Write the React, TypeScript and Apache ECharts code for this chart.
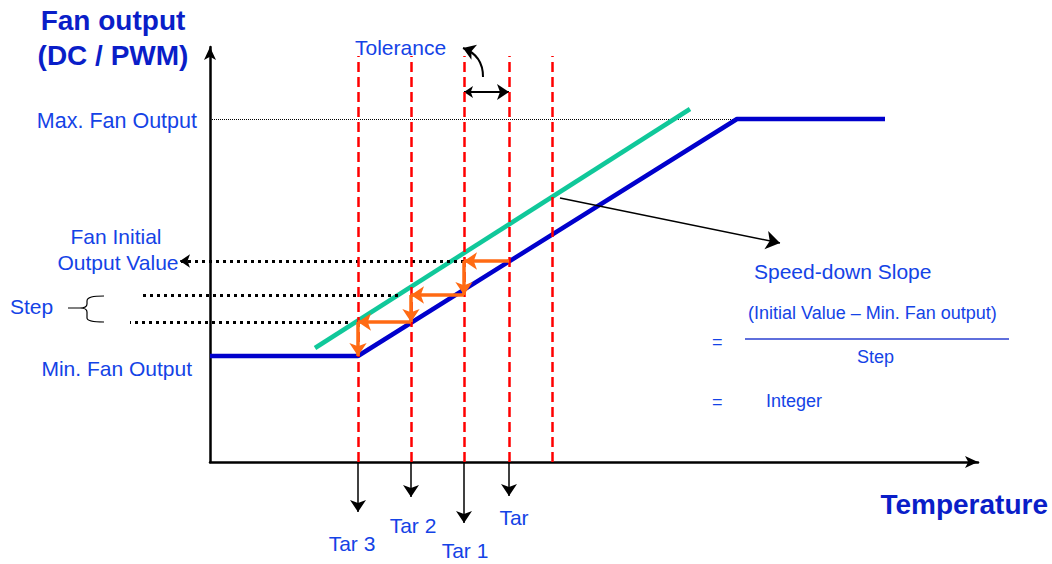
import React, { useEffect, useRef } from "react";
import * as echarts from "echarts";

// Data units: temperature (x) and fan output (y), both in arbitrary diagram units.
const minOutput = 106;
const maxOutput = 343;
const fanCurveTemps = [0, 148, 527, 675];
const fanCurveOutputs = [minOutput, minOutput, maxOutput, maxOutput];
const speedDownTemps = [105, 480];
const speedDownOutputs = [114, 353];
const thresholdTemps = [148, 201, 254, 299, 342]; // Tar 3, Tar 2, Tar 1, Tar, Tar + tolerance
const tarLabels = ["Tar 3", "Tar 2", "Tar 1", "Tar"];
const tarArrowEnds = [-50, -35, -61, -34];
const stepOutputs = [201, 167, 140]; // initial value, then step levels
const stepLineStarts = [-30, -68, -80];
const stepLineEnds = [254, 188, 138];
const dashTop = 406;
const toleranceLevel = 370;
const toleranceCurve = [[273, 385], [253, 414]];
const slopePointer = [[350, 264], [570, 219]];

const BLUE_TEXT = "#1443e6";
const TITLE_BLUE = "#0a1ec8";
const FONT = "'Liberation Sans', Arial, sans-serif";

const orangeSegments: number[][][] = [];
for (let i = 0; i < 3; i++) {
  const y0 = stepOutputs[i];
  const y1 = i < 2 ? stepOutputs[i + 1] : minOutput;
  orangeSegments.push([[thresholdTemps[3 - i], y0], [thresholdTemps[2 - i], y0]]);
  orangeSegments.push([[thresholdTemps[2 - i], y0], [thresholdTemps[2 - i], y1]]);
}

function txt(text: string, x: number, y: number, size: number, opts: any = {}) {
  return {
    type: "text",
    x,
    y,
    z: 100,
    style: {
      text,
      font: `${opts.bold ? "bold " : ""}${size}px ${FONT}`,
      fill: opts.color || BLUE_TEXT,
      align: opts.align || "left",
      verticalAlign: "middle",
      textAlign: opts.align || "left",
      textVerticalAlign: "middle",
    },
  };
}

export default function App() {
  const ref = useRef<HTMLDivElement>(null);
  useEffect(() => {
    if (!ref.current) return;
    echarts.graphic.registerShape(
      "brace",
      echarts.graphic.extendPath(
        "M104,296 C93,296 87,297 87,301 L87,304 C87,307 85,308 80,308 L68,308 M80,308 C85,308 87,309 87,312 L87,318 C87,321 93,322 104,322",
        {}
      )
    );
    const chart = echarts.init(ref.current, undefined, { renderer: "svg" });
    const arrowLines = (name: string, coords: number[][][], color: string, width: number, type: any, symbol: any, size: any, extra: any = {}) => ({
      type: "lines",
      name,
      coordinateSystem: "cartesian2d",
      clip: false,
      silent: true,
      symbol,
      symbolSize: size,
      lineStyle: { color, width, type, opacity: 1, ...(extra.lineStyle || {}) },
      data: coords.map((c) => ({ coords: c })),
      z: extra.z || 3,
    });

    const option: any = {
      animation: false,
      backgroundColor: "#ffffff",
      grid: { left: 210, right: 74, top: 47, bottom: 102, containLabel: false },
      xAxis: {
        type: "value",
        min: 0,
        max: 768,
        axisLine: { show: true, onZero: false, symbol: ["none", "arrow"], symbolSize: [9, 13], lineStyle: { color: "#000", width: 2.5 } },
        axisTick: { show: false },
        axisLabel: { show: false },
        splitLine: { show: false },
      },
      yAxis: {
        type: "value",
        min: 0,
        max: 415,
        axisLine: { show: true, onZero: false, symbol: ["none", "arrow"], symbolSize: [9, 13], lineStyle: { color: "#000", width: 2.5 } },
        axisTick: { show: false },
        axisLabel: { show: false },
        splitLine: { show: false },
      },
      series: [
        arrowLines("max", [[[0, maxOutput], [fanCurveTemps[2], maxOutput]]], "#000", 1, [1, 1], "none", 0, { z: 1 }),
        {
          type: "line",
          name: "fan",
          data: fanCurveTemps.map((t, i) => [t, fanCurveOutputs[i]]),
          symbol: "none",
          lineStyle: { color: "#0000cc", width: 4.5 },
          z: 2,
        },
        {
          type: "line",
          name: "speedDown",
          data: speedDownTemps.map((t, i) => [t, speedDownOutputs[i]]),
          symbol: "none",
          lineStyle: { color: "#10c89a", width: 4.5 },
          z: 2,
        },
        arrowLines(
          "stepLevels",
          stepOutputs.map((y, i) => [[stepLineEnds[i], y], [stepLineStarts[i], y]]),
          "#000",
          3,
          [3, 4],
          "none",
          0,
          { z: 3 }
        ),
        arrowLines("initialArrow", [[[stepLineStarts[0] + 10, stepOutputs[0]], [stepLineStarts[0], stepOutputs[0]]]], "#000", 1.5, "solid", ["none", "arrow"], [8, 10], { z: 3 }),
        arrowLines(
          "thresholds",
          thresholdTemps.map((t) => [[t, 0], [t, dashTop]]),
          "#ff0000",
          2.5,
          [10, 5],
          "none",
          0,
          { z: 4 }
        ),
        arrowLines("orange", orangeSegments, "#ff6a13", 3.5, "solid", ["none", "arrow"], [11, 13], { z: 5 }),
        arrowLines(
          "tarArrows",
          tarArrowEnds.map((y, i) => [[thresholdTemps[i], 0], [thresholdTemps[i], y]]),
          "#000",
          1.5,
          "solid",
          ["none", "arrow"],
          [9, 12],
          { z: 3 }
        ),
        arrowLines("tolerance", [[[thresholdTemps[2], toleranceLevel], [thresholdTemps[3], toleranceLevel]]], "#000", 2, "solid", ["arrow", "arrow"], [9, 12], { z: 3 }),
        arrowLines("toleranceCurve", [toleranceCurve], "#000", 2, "solid", ["none", "arrow"], [9, 12], { z: 3, lineStyle: { curveness: -0.35 } }),
        arrowLines("slopePointer", [slopePointer], "#000", 1.5, "solid", ["none", "arrow"], [9, 14], { z: 3 }),
      ],
      graphic: [
        txt("Fan output", 113, 20, 28, { bold: true, color: TITLE_BLUE, align: "center" }),
        txt("(DC / PWM)", 113, 55, 28, { bold: true, color: TITLE_BLUE, align: "center" }),
        txt("Max. Fan Output", 197, 121, 21.5, { align: "right" }),
        txt("Fan Initial", 116, 236, 21, { align: "center" }),
        txt("Output Value", 118, 262, 21, { align: "center" }),
        txt("Step", 10, 306, 21),
        txt("Min. Fan Output", 192, 368, 21, { align: "right" }),
        txt("Tolerance", 355, 47, 21),
        txt("Speed-down Slope", 754, 271, 21),
        txt("(Initial Value \u2013 Min. Fan output)", 748, 313, 18),
        txt("Step", 857, 357, 18),
        txt("=", 712, 342, 18),
        txt("=", 712, 402, 18),
        txt("Integer", 766, 401, 18),
        txt("Temperature", 1048, 504, 28, { bold: true, color: TITLE_BLUE, align: "right" }),
        ...tarLabels.map((label, i) =>
          txt(label, [352, 413, 465, 514][i], [543, 525, 550, 517][i], 21, { align: "center" })
        ),
        {
          type: "line",
          z: 100,
          shape: { x1: 745, y1: 339, x2: 1009, y2: 339 },
          style: { stroke: "#2a3fd0", lineWidth: 1.5 },
        },
        {
          type: "brace",
          x: 0,
          y: 0,
          z: 100,
          style: { stroke: "#000", fill: null, lineWidth: 1.2 },
        },
      ],
    };
    chart.setOption(option);
    return () => chart.dispose();
  }, []);
  return <div ref={ref} style={{ position: "fixed", left: 0, top: 0, width: 1052, height: 564 }} />;
}
